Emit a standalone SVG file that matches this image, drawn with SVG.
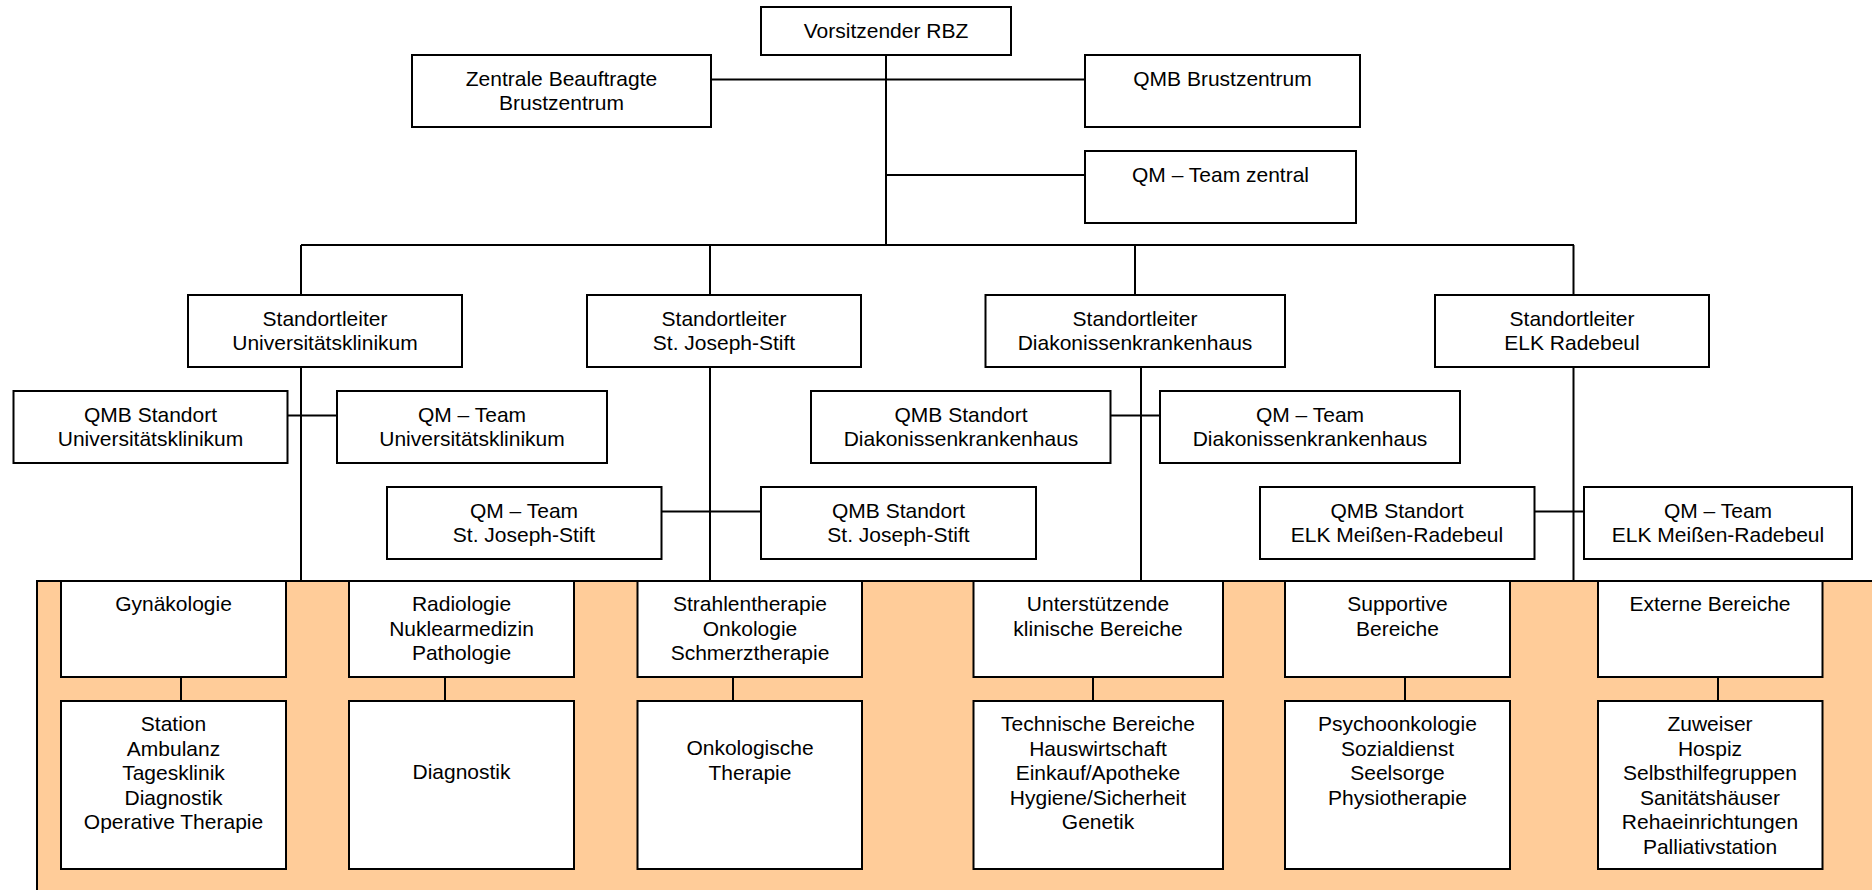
<svg xmlns="http://www.w3.org/2000/svg" width="1872" height="890" viewBox="0 0 1872 890">
<style>
.box{fill:#fff;stroke:#000;stroke-width:2}
.band{fill:#FFCC99;stroke:#000;stroke-width:2}
.ln{stroke:#000;stroke-width:2;fill:none}
text{font-family:"Liberation Sans",Arial,sans-serif;font-size:21px;fill:#000;text-anchor:middle}
</style>
<rect width="1872" height="890" fill="#fff"/>
<rect id="band" class="band" x="37" y="581" width="1845" height="320"/>
<g id="connectors">
<path class="ln" d="M711 79.5H1085M886 55V246M886 175H1085M301 245H1574M301 245V295M710 245V295M1135 245V295M1573.5 245V295"/>
<path class="ln" d="M301 367V581M710 367V581M1141 367V581M1573.5 367V581"/>
<path class="ln" d="M287.5 415.5H337M1110.5 415.5H1160M661.5 511.5H761M1534.5 511.5H1584"/>
<path class="ln" d="M181 677V701M445 677V701M733 677V701M1093 677V701M1405 677V701M1718 677V701"/>
</g>
<g id="n_vorsitz"><rect class="box" x="761" y="7" width="250" height="48"/><text x="886" y="38">Vorsitzender RBZ</text></g>
<g id="n_zentrale"><rect class="box" x="412" y="55" width="299" height="72"/><text x="561.5" y="86">Zentrale Beauftragte</text><text x="561.5" y="110">Brustzentrum</text></g>
<g id="n_qmb_bz"><rect class="box" x="1085" y="55" width="275" height="72"/><text x="1222.5" y="86">QMB Brustzentrum</text></g>
<g id="n_qm_zentral"><rect class="box" x="1085" y="151" width="271" height="72"/><text x="1220.5" y="182">QM – Team zentral</text></g>
<g id="n_sl_uni"><rect class="box" x="188" y="295" width="274" height="72"/><text x="325" y="326">Standortleiter</text><text x="325" y="350">Universitätsklinikum</text></g>
<g id="n_sl_sjs"><rect class="box" x="587" y="295" width="274" height="72"/><text x="724" y="326">Standortleiter</text><text x="724" y="350">St. Joseph-Stift</text></g>
<g id="n_sl_diak"><rect class="box" x="985.5" y="295" width="299.5" height="72"/><text x="1135" y="326">Standortleiter</text><text x="1135" y="350">Diakonissenkrankenhaus</text></g>
<g id="n_sl_elk"><rect class="box" x="1435" y="295" width="274" height="72"/><text x="1572" y="326">Standortleiter</text><text x="1572" y="350">ELK Radebeul</text></g>
<g id="n_qmb_uni"><rect class="box" x="13.5" y="391" width="274" height="72"/><text x="150.5" y="422">QMB Standort</text><text x="150.5" y="446">Universitätsklinikum</text></g>
<g id="n_qm_uni"><rect class="box" x="337" y="391" width="270" height="72"/><text x="472" y="422">QM – Team</text><text x="472" y="446">Universitätsklinikum</text></g>
<g id="n_qmb_diak"><rect class="box" x="811" y="391" width="299.5" height="72"/><text x="961" y="422">QMB Standort</text><text x="961" y="446">Diakonissenkrankenhaus</text></g>
<g id="n_qm_diak"><rect class="box" x="1160" y="391" width="300" height="72"/><text x="1310" y="422">QM – Team</text><text x="1310" y="446">Diakonissenkrankenhaus</text></g>
<g id="n_qm_sjs"><rect class="box" x="387" y="487" width="274.5" height="72"/><text x="524" y="518">QM – Team</text><text x="524" y="542">St. Joseph-Stift</text></g>
<g id="n_qmb_sjs"><rect class="box" x="761" y="487" width="275" height="72"/><text x="898.5" y="518">QMB Standort</text><text x="898.5" y="542">St. Joseph-Stift</text></g>
<g id="n_qmb_elk"><rect class="box" x="1260" y="487" width="274.5" height="72"/><text x="1397" y="518">QMB Standort</text><text x="1397" y="542">ELK Meißen-Radebeul</text></g>
<g id="n_qm_elk"><rect class="box" x="1584" y="487" width="268" height="72"/><text x="1718" y="518">QM – Team</text><text x="1718" y="542">ELK Meißen-Radebeul</text></g>
<g id="n_gyn"><rect class="box" x="61" y="581" width="225" height="96"/><text x="173.5" y="611">Gynäkologie</text></g>
<g id="n_gyn_sub"><rect class="box" x="61" y="701" width="225" height="168"/><text x="173.5" y="731">Station</text><text x="173.5" y="755.5">Ambulanz</text><text x="173.5" y="780">Tagesklinik</text><text x="173.5" y="804.5">Diagnostik</text><text x="173.5" y="829">Operative Therapie</text></g>
<g id="n_rad"><rect class="box" x="349" y="581" width="225" height="96"/><text x="461.5" y="611">Radiologie</text><text x="461.5" y="635.5">Nuklearmedizin</text><text x="461.5" y="660">Pathologie</text></g>
<g id="n_rad_sub"><rect class="box" x="349" y="701" width="225" height="168"/><text x="461.5" y="779">Diagnostik</text></g>
<g id="n_str"><rect class="box" x="637.5" y="581" width="224.5" height="96"/><text x="750" y="611">Strahlentherapie</text><text x="750" y="635.5">Onkologie</text><text x="750" y="660">Schmerztherapie</text></g>
<g id="n_str_sub"><rect class="box" x="637.5" y="701" width="224.5" height="168"/><text x="750" y="755">Onkologische</text><text x="750" y="779.5">Therapie</text></g>
<g id="n_unt"><rect class="box" x="973.5" y="581" width="249.5" height="96"/><text x="1098" y="611">Unterstützende</text><text x="1098" y="635.5">klinische Bereiche</text></g>
<g id="n_unt_sub"><rect class="box" x="973.5" y="701" width="249.5" height="168"/><text x="1098" y="731">Technische Bereiche</text><text x="1098" y="755.5">Hauswirtschaft</text><text x="1098" y="780">Einkauf/Apotheke</text><text x="1098" y="804.5">Hygiene/Sicherheit</text><text x="1098" y="829">Genetik</text></g>
<g id="n_sup"><rect class="box" x="1285" y="581" width="225" height="96"/><text x="1397.5" y="611">Supportive</text><text x="1397.5" y="635.5">Bereiche</text></g>
<g id="n_sup_sub"><rect class="box" x="1285" y="701" width="225" height="168"/><text x="1397.5" y="731">Psychoonkologie</text><text x="1397.5" y="755.5">Sozialdienst</text><text x="1397.5" y="780">Seelsorge</text><text x="1397.5" y="804.5">Physiotherapie</text></g>
<g id="n_ext"><rect class="box" x="1598" y="581" width="224.5" height="96"/><text x="1710" y="611">Externe Bereiche</text></g>
<g id="n_ext_sub"><rect class="box" x="1598" y="701" width="224.5" height="168"/><text x="1710" y="731">Zuweiser</text><text x="1710" y="755.5">Hospiz</text><text x="1710" y="780">Selbsthilfegruppen</text><text x="1710" y="804.5">Sanitätshäuser</text><text x="1710" y="829">Rehaeinrichtungen</text><text x="1710" y="853.5">Palliativstation</text></g>
</svg>
